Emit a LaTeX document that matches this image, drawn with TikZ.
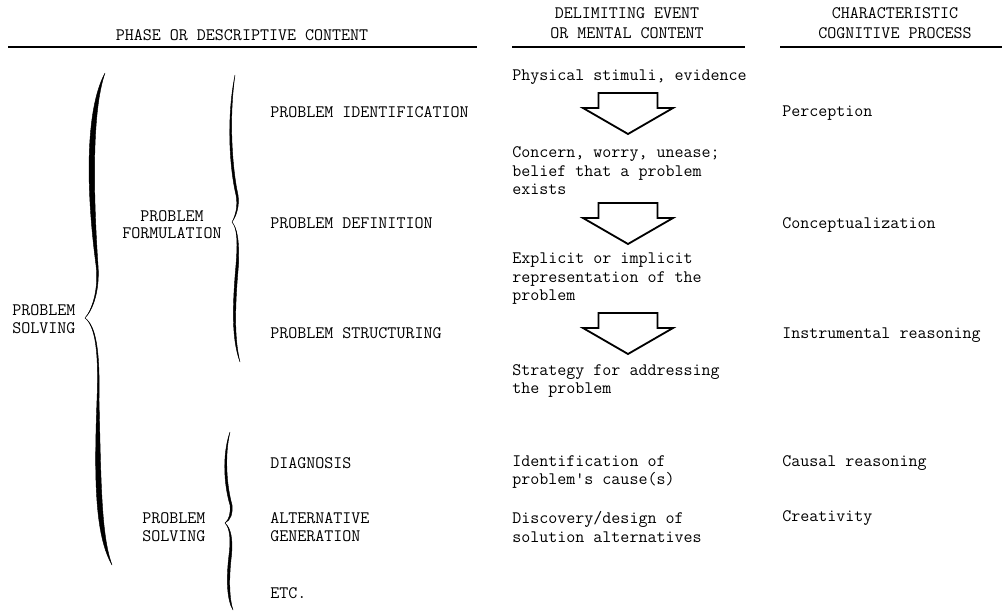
\documentclass[tikz,border=0pt]{standalone}
\usepackage{fontspec}
\usepackage{tikz}

\tikzset{
  txt/.style={font=\ttfamily\fontsize{12.45}{13.2}\selectfont, inner sep=0pt, anchor=west, align=left},
  hdr/.style={font=\ttfamily\fontsize{12.45}{14.2}\selectfont, inner sep=0pt, align=center},
  rule/.style={line width=1pt},
  brace/.style={fill=black, draw=black, line width=0.3pt},
  blockarrow/.pic={\draw[line width=1.3pt, line join=miter] (-29.5,0) -- (29.5,0) -- (29.5,15) -- (45,15) -- (0,41) -- (-45,15) -- (-29.5,15) -- cycle;}
}

\begin{document}
\begin{tikzpicture}[x=0.025cm, y=-0.025cm]
    \useasboundingbox (0,0) rectangle (1004,612);

    % Column headers:
    \node[hdr] (phasehdr) at (242,35) {PHASE OR DESCRIPTIVE CONTENT};
    \node[hdr] (eventhdr) at (627,23) {DELIMITING EVENT\\OR MENTAL CONTENT};
    \node[hdr] (prochdr) at (895,23) {CHARACTERISTIC\\COGNITIVE PROCESS};
    \draw[rule] (8,47) -- (477,47);
    \draw[rule] (512,47) -- (745,47);
    \draw[rule] (780,47) -- (1002,47);

    % Phases:
    \node[txt] (solveall) at (12,319) {PROBLEM\\SOLVING};
    \node[hdr, font=\ttfamily\fontsize{12.45}{12}\selectfont] (formul) at (172,225) {PROBLEM\\FORMULATION};
    \node[txt] (solvesub) at (142,527) {PROBLEM\\SOLVING};
    \node[txt] (ident) at (270,112) {PROBLEM IDENTIFICATION};
    \node[txt] (defin) at (270,223) {PROBLEM DEFINITION};
    \node[txt] (struct) at (270,333) {PROBLEM STRUCTURING};
    \node[txt] (diag) at (270,463) {DIAGNOSIS};
    \node[txt] (altgen) at (270,527) {ALTERNATIVE\\GENERATION};
    \node[txt] (etc) at (270,593) {ETC.};

    % Outer brace:
    \filldraw[brace] (105,73) .. controls (85,110) and (86,190) .. (96,265) .. controls (99,290) and (92,310) .. (85,318)
      .. controls (93,310) and (100,290) .. (98,265) .. controls (93,190) and (92,110) .. (105,73) -- cycle;
    \filldraw[brace] (85,318) .. controls (95,326) and (99,350) .. (97,400) .. controls (94,480) and (95,535) .. (112,565)
      .. controls (101,535) and (101,480) .. (99,400) .. controls (100,350) and (96,326) .. (85,318) -- cycle;

    % Formulation brace:
    \filldraw[brace] (235,75) .. controls (226,120) and (230,170) .. (236,195) .. controls (238,205) and (236,215) .. (232,222)
      .. controls (237,215) and (239.5,205) .. (238,195) .. controls (232.5,170) and (228.5,120) .. (235,75) -- cycle;
    \filldraw[brace] (232,222) .. controls (237,228) and (238,240) .. (236,265) .. controls (232,310) and (232,340) .. (240,362)
      .. controls (234.5,340) and (234.5,310) .. (238.5,265) .. controls (239.5,240) and (237,228) .. (232,222) -- cycle;

    % Solving brace:
    \filldraw[brace] (230,432) .. controls (222,455) and (224,485) .. (230,505) .. controls (231,513) and (229,520) .. (225,523)
      .. controls (231,520) and (233,513) .. (232,505) .. controls (226.5,485) and (224.5,455) .. (230,432) -- cycle;
    \filldraw[brace] (225,523) .. controls (230,528) and (231,540) .. (229,555) .. controls (226,580) and (227,600) .. (233,610)
      .. controls (229.5,600) and (228.5,580) .. (231.5,555) .. controls (233,540) and (231,528) .. (225,523) -- cycle;

    % Events:
    \node[txt] (stimuli) at (512,77) {Physical stimuli, evidence};
    \node[txt] (concern) at (512,171) {Concern, worry, unease;\\belief that a problem\\exists};
    \node[txt] (explicit) at (512,279) {Explicit or implicit\\representation of the\\problem};
    \node[txt] (strategy) at (512,381) {Strategy for addressing\\the problem};
    \node[txt] (cause) at (512,472) {Identification of\\problem's cause(s)};
    \node[txt] (discov) at (512,527) {Discovery/design of\\solution alternatives};
    \pic at (628,93) {blockarrow};
    \pic at (628,203) {blockarrow};
    \pic at (628,313) {blockarrow};

    % Processes:
    \node[txt] (percep) at (782,113) {Perception};
    \node[txt] (concept) at (782,225) {Conceptualization};
    \node[txt] (instr) at (782,335) {Instrumental reasoning};
    \node[txt] (causal) at (782,463) {Causal reasoning};
    \node[txt] (creat) at (782,518) {Creativity};
  \end{tikzpicture}
\end{document}
